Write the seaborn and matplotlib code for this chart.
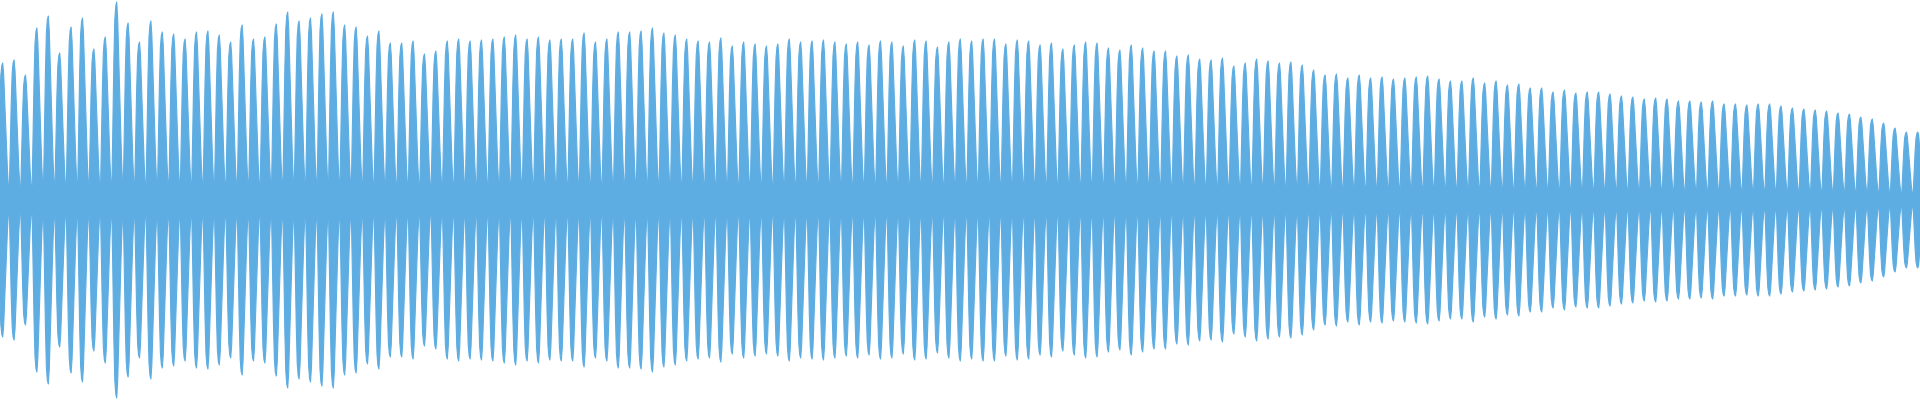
import numpy as np
import pandas as pd
import seaborn as sns
import matplotlib
matplotlib.use("Agg")
import matplotlib.pyplot as plt

# peak amplitude of each burst, read left to right (full scale = 200)
peaks = [
    137, 140, 125, 172, 184, 147, 173, 182, 151, 163,
    198, 177, 158, 179, 168, 166, 161, 168, 169, 165,
    158, 175, 161, 163, 176, 188, 179, 182, 186, 188,
    175, 173, 164, 169, 157, 157, 159, 146, 149, 159,
    161, 159, 160, 161, 163, 165, 161, 163, 160, 161,
    161, 167, 158, 161, 168, 168, 169, 172, 167, 165,
    161, 159, 158, 162, 154, 158, 156, 154, 156, 161,
    158, 159, 160, 158, 156, 158, 155, 159, 158, 154,
    160, 159, 153, 158, 161, 159, 161, 161, 156, 160,
    159, 155, 157, 151, 155, 158, 157, 152, 150, 155,
    152, 149, 149, 144, 145, 141, 140, 142, 134, 137,
    141, 139, 137, 138, 135, 130, 125, 126, 122, 125,
    122, 123, 121, 122, 123, 124, 121, 119, 119, 122,
    117, 119, 115, 116, 112, 112, 108, 110, 107, 108,
    108, 106, 104, 103, 101, 102, 101, 99, 99, 98,
    99, 96, 96, 95, 96, 96, 94, 92, 91, 90,
    89, 87, 86, 83, 81, 77, 72, 68, 68,
]

# shape of one burst, trough to trough (fraction of its peak)
burst_shape = [0.08, 0.38, 0.70, 0.91, 0.98, 1.00, 0.92, 0.75, 0.57, 0.39, 0.22, 0.10]

wave_color = "#5DADE2"

rows = []
for k, pk in enumerate(peaks):
    for j, frac in enumerate(burst_shape):
        rows.append({"t": k + j / len(burst_shape), "env": pk * frac})
rows.append({"t": float(len(peaks)), "env": peaks[-1] * burst_shape[0]})
df = pd.DataFrame(rows)
df["neg"] = -df["env"]

sns.set_theme(style="white")
fig = plt.figure(figsize=(19.2, 4), dpi=100)
ax = fig.add_axes([0, 0, 1, 1])

ax.fill_between(df["t"], df["neg"], df["env"], color=wave_color, linewidth=0)
sns.lineplot(data=df, x="t", y="env", ax=ax, color=wave_color, linewidth=0.8,
             estimator=None, sort=False)
sns.lineplot(data=df, x="t", y="neg", ax=ax, color=wave_color, linewidth=0.8,
             estimator=None, sort=False)

ax.set_xlim(0.18, 0.18 + 1920 / 11.4)
ax.set_ylim(-200, 200)
ax.axis("off")

fig.savefig("out.png", dpi=100, facecolor="white")
